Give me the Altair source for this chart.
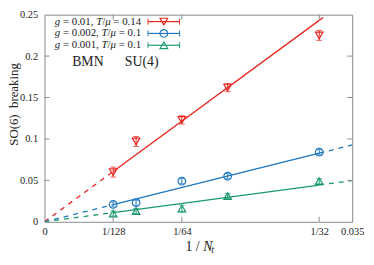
import altair as alt
import pandas as pd

# ---------------- data ----------------
series = ["red", "blue", "green"]
colors = ["#e8261f", "#1f78c0", "#1a9a6c"]
shapes = ["triangle-down", "circle", "triangle-up"]
leg_g = ["0.01", "0.002", "0.001"]
leg_t = ["0.14", "0.1", "0.1"]

inv_nt = [1/128, 1/96, 1/64, 1/48, 1/32]
red_y = [0.060, 0.097, 0.123, 0.162, 0.225]
red_err = [0.006, 0.006, 0.005, 0.005, 0.006]
blue_y = [0.021, 0.023, 0.049, 0.055, 0.084]
blue_err = [0.003, 0.003, 0.003, 0.003, 0.003]
green_y = [0.010, 0.013, 0.016, 0.031, 0.049]
green_err = [0.003, 0.003, 0.004, 0.003, 0.003]
fit_slope = [7.78, 2.65, 1.42]

x_ticks = [0, 1/128, 1/64, 1/32, 0.035]
y_ticks = [0, 0.05, 0.1, 0.15, 0.2, 0.25]

W, H = 312, 210
FONT = "Liberation Serif"
TXT = "#222222"
FRAME = "#8a8a8a"
NB = "\u00a0"

# ---------------- tables ----------------
rows = []
for s, ys_, es in zip(series, [red_y, blue_y, green_y], [red_err, blue_err, green_err]):
    for x, y, e in zip(inv_nt, ys_, es):
        rows.append(dict(series=s, x=x, y=y, lo=y - e, hi=y + e))
pts = pd.DataFrame(rows)

seg_rows = []
segs = [(0, 1/128, "dash"), (1/128, 1/32, "solid"), (1/32, 0.035, "dash")]
for s, a in zip(series, fit_slope):
    for i, (x0, x1, kind) in enumerate(segs):
        for xx in (x0, x1):
            seg_rows.append(dict(series=s, seg=f"{s}{i}", kind=kind, x=xx, y=a * xx))
fits = pd.DataFrame(seg_rows)

xs = alt.Scale(domain=[0, 0.035], nice=False, zero=False)
ys = alt.Scale(domain=[0, 0.25], nice=False, zero=False)
cs = alt.Scale(domain=series, range=colors)
ss = alt.Scale(domain=series, range=shapes)

x_label_expr = ("datum.value == 0 ? '0' : datum.value < 0.01 ? '1/128' : "
                "datum.value < 0.02 ? '1/64' : datum.value < 0.033 ? '1/32' : '0.035'")

X = alt.X("x:Q", scale=xs, axis=alt.Axis(values=x_ticks, labelExpr=x_label_expr, title=None,
                                         grid=False, ticks=False, domain=False, labelPadding=5,
                                         labelFlush=False))
Y = alt.Y("y:Q", scale=ys, axis=alt.Axis(values=y_ticks, format="~g", title=None, grid=False,
                                         ticks=False, domain=False, labelPadding=7))
C = alt.Color("series:N", scale=cs, legend=None)

base_fit = alt.Chart(fits)
solid = base_fit.transform_filter("datum.kind == 'solid'").mark_line(strokeWidth=1.3, clip=True).encode(
    x=X, y=Y, color=C, detail="seg:N")
dashed = base_fit.transform_filter("datum.kind == 'dash'").mark_line(
    strokeWidth=1.3, strokeDash=[5, 5], clip=True).encode(
    x=alt.X("x:Q", scale=xs), y=alt.Y("y:Q", scale=ys), color=C, detail="seg:N")

base_pts = alt.Chart(pts)
err = base_pts.mark_rule(strokeWidth=1).encode(
    x=alt.X("x:Q", scale=xs), y=alt.Y("lo:Q", scale=ys), y2="hi:Q", color=C)
cap_lo = base_pts.mark_tick(orient="horizontal", size=6, thickness=1).encode(
    x=alt.X("x:Q", scale=xs), y=alt.Y("lo:Q", scale=ys), color=C)
cap_hi = base_pts.mark_tick(orient="horizontal", size=6, thickness=1).encode(
    x=alt.X("x:Q", scale=xs), y=alt.Y("hi:Q", scale=ys), color=C)
marks = base_pts.mark_point(filled=False, size=60, strokeWidth=1.2, opacity=1).encode(
    x=alt.X("x:Q", scale=xs), y=alt.Y("y:Q", scale=ys), color=C,
    shape=alt.Shape("series:N", scale=ss, legend=None))

# ---------------- inward ticks ----------------
xt = pd.DataFrame(dict(v=[1/128, 1/64, 1/32]))
yt = pd.DataFrame(dict(v=[0.05, 0.1, 0.15, 0.2]))
tick_style = dict(color=FRAME, strokeWidth=1)
xt_b = alt.Chart(xt).mark_rule(**tick_style).encode(
    x=alt.X("v:Q", scale=xs), y=alt.value(H), y2=alt.value(H - 5))
xt_t = alt.Chart(xt).mark_rule(**tick_style).encode(
    x=alt.X("v:Q", scale=xs), y=alt.value(0), y2=alt.value(5))
yt_l = alt.Chart(yt).mark_rule(**tick_style).encode(
    y=alt.Y("v:Q", scale=ys), x=alt.value(0), x2=alt.value(5))
yt_r = alt.Chart(yt).mark_rule(**tick_style).encode(
    y=alt.Y("v:Q", scale=ys), x=alt.value(W), x2=alt.value(W - 5))

# ---------------- legend (custom, gnuplot style) ----------------
LFS = 11
wid = {' ': 0.25, NB: 0.25, '.': 0.25, ',': 0.25, '=': 0.564, '/': 0.278, 'g': 0.5, 'T': 0.556, 'μ': 0.5}
def tw(s, fs):
    return sum(wid.get(ch, 0.5) for ch in s) * fs

SP = 0.25 * LFS
leg_y = [7, 19, 31]
pieces = []
for s, g, t, py in zip(series, leg_g, leg_t, leg_y):
    parts = [("g", "italic", 0), (f"={NB}{g},", "normal", SP), ("T", "italic", SP),
             ("/", "normal", 0), ("μ", "italic", 0), (f"={NB}{t}", "normal", SP)]
    total = sum(tw(p[0], LFS) + p[2] for p in parts)
    xl = 98.0 - total
    for txt, st, gap in parts:
        xl += gap
        pieces.append(dict(series=s, text=txt, style=st, px=xl, py=py))
        xl += tw(txt, LFS)
legtxt = pd.DataFrame(pieces)
leg_norm = alt.Chart(legtxt).transform_filter("datum.style == 'normal'").mark_text(
    align="left", baseline="middle", font=FONT, fontSize=LFS, color=TXT).encode(
    x=alt.X("px:Q", scale=None), y=alt.Y("py:Q", scale=None), text="text:N")
leg_it = alt.Chart(legtxt).transform_filter("datum.style == 'italic'").mark_text(
    align="left", baseline="middle", font=FONT, fontSize=LFS, fontStyle="italic", color=TXT).encode(
    x=alt.X("px:Q", scale=None), y=alt.Y("py:Q", scale=None), text="text:N")

legdf = pd.DataFrame(dict(series=series, py=leg_y))
leg_base = alt.Chart(legdf).transform_calculate(a="datum.py - 3", b="datum.py + 3")
leg_line = leg_base.mark_rule(strokeWidth=1.2).encode(
    x=alt.value(105), x2=alt.value(137), y=alt.Y("py:Q", scale=None), color=C)
leg_cap1 = leg_base.mark_rule(strokeWidth=1).encode(
    x=alt.value(105), y=alt.Y("a:Q", scale=None), y2="b:Q", color=C)
leg_cap2 = leg_base.mark_rule(strokeWidth=1).encode(
    x=alt.value(137), y=alt.Y("a:Q", scale=None), y2="b:Q", color=C)
leg_pt = leg_base.mark_point(filled=False, size=60, strokeWidth=1.2, opacity=1).encode(
    x=alt.value(121), y=alt.Y("py:Q", scale=None), color=C,
    shape=alt.Shape("series:N", scale=ss, legend=None))

# ---------------- annotations & titles ----------------
ann = pd.DataFrame(dict(text=["BMN", "SU(4)"], px=[44, 98.5], py=[48, 48]))
ann_t = alt.Chart(ann).mark_text(font=FONT, fontSize=14, color=TXT, baseline="middle").encode(
    x=alt.X("px:Q", scale=None), y=alt.Y("py:Q", scale=None), text="text:N")

ytitle = alt.Chart(pd.DataFrame(dict(t=[f"SO(6){NB}{NB}breaking"]))).mark_text(
    font=FONT, fontSize=13, color=TXT, angle=270, baseline="middle", align="center").encode(
    x=alt.value(-30.5), y=alt.value(91), text="t:N")

TFS = 14
lead = f"1{NB}/{NB}"
x0 = 158 - (tw(lead, TFS) + 0.667 * TFS + 0.28 * 10) / 2
xt_parts = pd.DataFrame(dict(
    text=[f"1{NB}/", "N", "t"],
    style=["normal", "italic", "sub"],
    px=[x0, x0 + tw(lead, TFS), x0 + tw(lead, TFS) + 0.667 * TFS - 1],
    py=[235.5, 235.5, 239]))
xt_n = alt.Chart(xt_parts).transform_filter("datum.style == 'normal'").mark_text(
    align="left", baseline="middle", font=FONT, fontSize=TFS, color=TXT).encode(
    x=alt.X("px:Q", scale=None), y=alt.Y("py:Q", scale=None), text="text:N")
xt_i = alt.Chart(xt_parts).transform_filter("datum.style == 'italic'").mark_text(
    align="left", baseline="middle", font=FONT, fontSize=TFS, fontStyle="italic", color=TXT).encode(
    x=alt.X("px:Q", scale=None), y=alt.Y("py:Q", scale=None), text="text:N")
xt_s = alt.Chart(xt_parts).transform_filter("datum.style == 'sub'").mark_text(
    align="left", baseline="middle", font=FONT, fontSize=10, fontStyle="italic", color=TXT).encode(
    x=alt.X("px:Q", scale=None), y=alt.Y("py:Q", scale=None), text="text:N")

chart = alt.layer(
    solid, dashed, err, cap_lo, cap_hi, marks,
    xt_b, xt_t, yt_l, yt_r,
    leg_line, leg_cap1, leg_cap2, leg_pt, leg_norm, leg_it,
    ann_t, ytitle, xt_n, xt_i, xt_s,
).properties(
    width=W, height=H,
    padding={"left": 37, "top": 5, "right": 14, "bottom": 40},
    autosize=alt.AutoSizeParams(type="none"),
).configure_view(
    stroke=FRAME, strokeWidth=1
).configure_axis(
    labelFont=FONT, labelFontSize=10.5, labelColor=TXT
)

chart.save("out.html", embed_options={"renderer": "svg", "actions": False})
